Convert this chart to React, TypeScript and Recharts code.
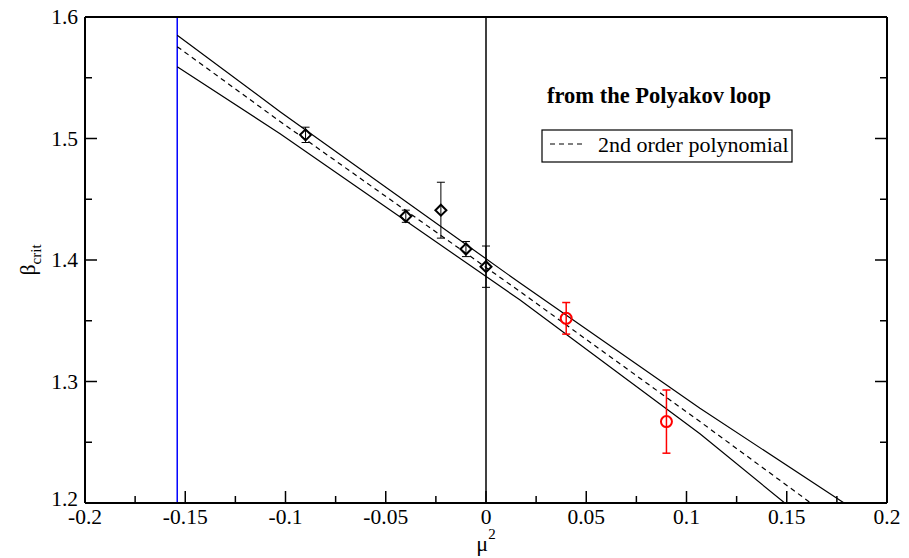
import { ComposedChart, XAxis, YAxis, Line, Scatter, ErrorBar, ReferenceLine, Legend } from "recharts"

// tick positions
const xMajorTicks = [-0.2, -0.15, -0.1, -0.05, 0, 0.05, 0.1, 0.15, 0.2]
const xMinorTicks = [-0.175, -0.125, -0.075, -0.025, 0.025, 0.075, 0.125, 0.175]
const yMajorTicks = [1.2, 1.3, 1.4, 1.5, 1.6]
const yMinorTicks = [1.25, 1.35, 1.45, 1.55]

// simulation points (mu^2 < 0 imaginary chem. potential, black diamonds)
const mu2Black = [-0.09, -0.04, -0.0225, -0.01, 0]
const betaBlack = [1.503, 1.436, 1.441, 1.409, 1.3945]
const errBlack = [0.0063, 0.005, 0.023, 0.0062, 0.017]

// real chem. potential points (red circles)
const mu2Red = [0.04, 0.09]
const betaRed = [1.352, 1.267]
const errRed = [0.013, 0.026]

// 2nd order polynomial fit and its error band
const fitMu2 = [-0.154, -0.1027, 0.017, 0.1067, 0.162]
const fitBeta = [1.5756, 1.514, 1.374, 1.267, 1.2]
const upperMu2 = [-0.154, -0.1027, 0.017, 0.1067, 0.1786]
const upperBeta = [1.585, 1.522, 1.381, 1.278, 1.2]
const lowerMu2 = [-0.154, -0.1027, 0.017, 0.1067, 0.149]
const lowerBeta = [1.559, 1.504, 1.367, 1.257, 1.2]

const mu2Limit = -0.154

const serif = "'Liberation Serif', 'DejaVu Serif', serif"
const serifStyle = { fontFamily: serif }

const toPoints = (xs: number[], ys: number[], errs?: number[]) =>
  xs.map((x, i) => ({ x, y: ys[i], err: errs ? errs[i] : 0 }))

const blackPoints = toPoints(mu2Black, betaBlack, errBlack)
const redPoints = toPoints(mu2Red, betaRed, errRed)
const fitLine = toPoints(fitMu2, fitBeta)
const upperLine = toPoints(upperMu2, upperBeta)
const lowerLine = toPoints(lowerMu2, lowerBeta)

const isMajor = (v: number, majors: number[]) => majors.some((m) => Math.abs(m - v) < 1e-9)

function makeTick(side: "bottom" | "top" | "left" | "right", majors: number[]) {
  return (props: any) => {
    const { x, y, payload } = props
    const major = isMajor(payload.value, majors)
    const len = major ? 12 : 7
    let line
    if (side === "bottom") line = <line x1={x} y1={y} x2={x} y2={y - len} />
    else if (side === "top") line = <line x1={x} y1={y} x2={x} y2={y + len} />
    else if (side === "left") line = <line x1={x} y1={y} x2={x + len} y2={y} />
    else line = <line x1={x} y1={y} x2={x - len} y2={y} />
    // lowest y label sits a little higher, clear of the x labels
    const lift = side === "left" && payload.value === majors[0] ? -4 : 0
    return (
      <g stroke="#000" strokeWidth={1.5}>
        {line}
        {major && side === "bottom" && (
          <text x={x} y={y + 21} textAnchor="middle" style={serifStyle} fontSize={21.5} fill="#000" stroke="none">
            {String(payload.value)}
          </text>
        )}
        {major && side === "left" && (
          <text x={x - 7} y={y + 7 + lift} textAnchor="end" style={serifStyle} fontSize={21.5} fill="#000" stroke="none">
            {String(payload.value)}
          </text>
        )}
      </g>
    )
  }
}

const Diamond = (props: any) => {
  const { cx, cy } = props
  const r = 5.5
  return (
    <polygon
      points={`${cx},${cy - r} ${cx + r},${cy} ${cx},${cy + r} ${cx - r},${cy}`}
      fill="none"
      stroke="#000"
      strokeWidth={2}
    />
  )
}

const Circle = (props: any) => {
  const { cx, cy } = props
  return <circle cx={cx} cy={cy} r={5.5} fill="none" stroke="#ff0000" strokeWidth={2} />
}

const LegendBox = () => (
  <svg width={270} height={90} style={{ overflow: "visible" }}>
    <text x={7} y={23} style={serifStyle} fontSize={22.5} fontWeight="bold" fill="#000">
      from the Polyakov loop
    </text>
    <rect x={2} y={50} width={250} height={32} fill="#fff" stroke="#000" strokeWidth={1.2} />
    <line x1={10} y1={64} x2={42} y2={64} stroke="#000" strokeWidth={1.2} strokeDasharray="5 4" />
    <text x={58} y={72} style={serifStyle} fontSize={22} fill="#000">
      2nd order polynomial
    </text>
  </svg>
)

export default function App() {
  const xTicks = [...xMajorTicks, ...xMinorTicks].sort((a, b) => a - b)
  const yTicks = [...yMajorTicks, ...yMinorTicks].sort((a, b) => a - b)

  return (
    <div style={{ position: "absolute", left: 0, top: 0, background: "#fff", fontFamily: serif }}>
      <ComposedChart width={909} height={558} margin={{ top: 0, right: 0, bottom: 0, left: 0 }}>
        <XAxis
          dataKey="x"
          type="number"
          domain={[-0.2, 0.2]}
          allowDataOverflow
          ticks={xTicks}
          interval={0}
          tickSize={0}
          tickMargin={0}
          tickLine={false}
          height={55}
          axisLine={{ stroke: "#000", strokeWidth: 2 }}
          tick={makeTick("bottom", xMajorTicks)}
          label={(p: any) => {
            const vb = p.viewBox
            const cx = vb.x + vb.width / 2
            return (
              <text x={cx} y={vb.y + 48} textAnchor="middle" style={serifStyle} fontSize={22} fill="#000">
                μ<tspan dy={-12} fontSize={15}>2</tspan>
              </text>
            )
          }}
        />
        <XAxis
          xAxisId="top"
          orientation="top"
          type="number"
          domain={[-0.2, 0.2]}
          allowDataOverflow
          ticks={xTicks}
          interval={0}
          tickSize={0}
          tickMargin={0}
          tickLine={false}
          height={17}
          axisLine={{ stroke: "#000", strokeWidth: 2 }}
          tick={makeTick("top", xMajorTicks)}
        />
        <YAxis
          dataKey="y"
          type="number"
          domain={[1.2, 1.6]}
          allowDataOverflow
          ticks={yTicks}
          interval={0}
          tickSize={0}
          tickMargin={0}
          tickLine={false}
          width={85}
          axisLine={{ stroke: "#000", strokeWidth: 2 }}
          tick={makeTick("left", yMajorTicks)}
          label={(p: any) => {
            const vb = p.viewBox
            const cx = vb.x + 30
            const cy = vb.y + vb.height / 2
            return (
              <text
                x={cx}
                y={cy + 5}
                transform={`rotate(-90 ${cx} ${cy})`}
                textAnchor="middle"
                style={serifStyle}
                fontSize={22}
                fill="#000"
              >
                β<tspan dy={6} fontSize={15}>crit</tspan>
              </text>
            )
          }}
        />
        <YAxis
          yAxisId="right"
          orientation="right"
          type="number"
          domain={[1.2, 1.6]}
          allowDataOverflow
          ticks={yTicks}
          interval={0}
          tickSize={0}
          tickMargin={0}
          tickLine={false}
          width={22}
          axisLine={{ stroke: "#000", strokeWidth: 2 }}
          tick={makeTick("right", yMajorTicks)}
        />

        <ReferenceLine x={mu2Limit} stroke="#0000ff" strokeWidth={1.5} />
        <ReferenceLine x={0} stroke="#000" strokeWidth={1.5} />

        <Line data={upperLine} dataKey="y" stroke="#000" strokeWidth={1.2} dot={false} legendType="none" isAnimationActive={false} />
        <Line data={lowerLine} dataKey="y" stroke="#000" strokeWidth={1.2} dot={false} legendType="none" isAnimationActive={false} />
        <Line
          data={fitLine}
          dataKey="y"
          name="2nd order polynomial"
          stroke="#000"
          strokeWidth={1.2}
          strokeDasharray="5 4"
          dot={false}
          isAnimationActive={false}
        />

        <Scatter data={blackPoints} dataKey="y" shape={<Diamond />} legendType="none" isAnimationActive={false}>
          <ErrorBar dataKey="err" direction="y" width={4} stroke="#000" strokeWidth={1} />
        </Scatter>
        <Scatter data={redPoints} dataKey="y" shape={<Circle />} legendType="none" isAnimationActive={false}>
          <ErrorBar dataKey="err" direction="y" width={4} stroke="#ff0000" strokeWidth={1.5} />
        </Scatter>

        <Legend
          layout="vertical"
          align="center"
          verticalAlign="middle"
          wrapperStyle={{ left: 540, top: 80, width: 270 }}
          content={() => <LegendBox />}
        />
      </ComposedChart>
    </div>
  )
}
